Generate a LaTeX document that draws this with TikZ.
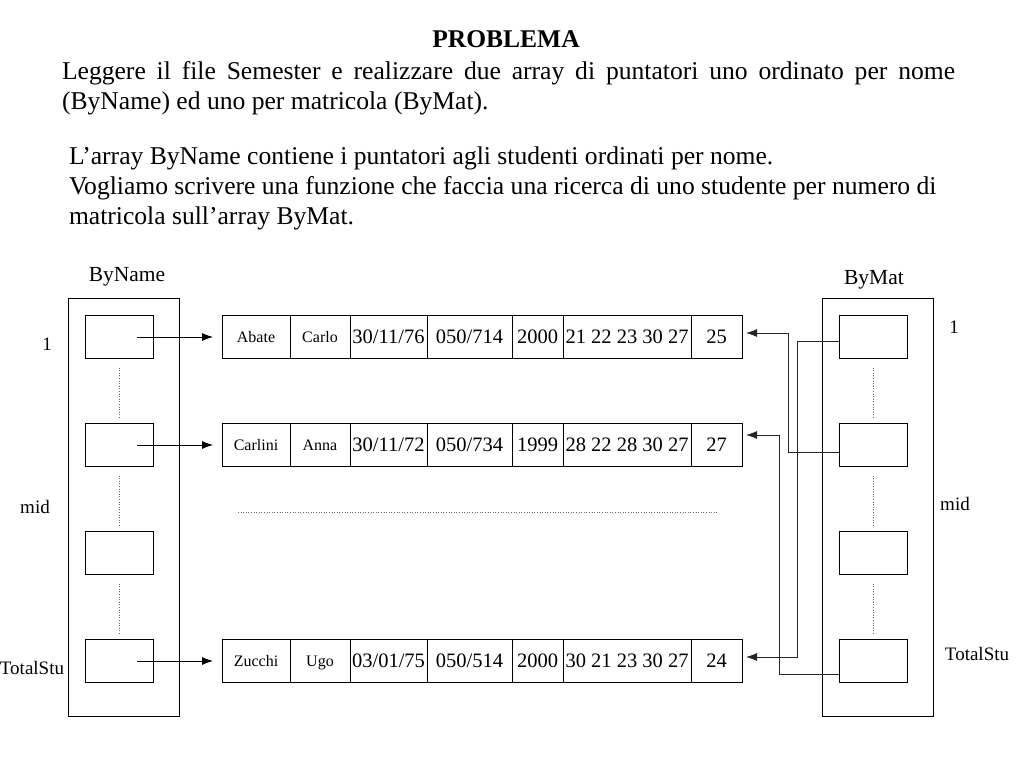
\documentclass[tikz,border=0pt]{standalone}
\usepackage{fontspec}
\setmainfont{Liberation Serif}
\usetikzlibrary{positioning,arrows.meta}

\begin{document}
\begin{tikzpicture}[x=1pt,y=-1pt,
  every node/.style={inner sep=0pt,outer sep=0pt},
  txt/.style={anchor=base west,font=\fontsize{25.6}{30}\selectfont},
  lbl/.style={font=\fontsize{19}{22}\selectfont},
  head/.style={font=\fontsize{21.5}{24}\selectfont},
  frame/.style={draw,line width=0.9pt,minimum width=111pt,minimum height=418pt},
  slot/.style={draw,line width=0.9pt,minimum width=68pt,minimum height=43pt},
  cell/.style={draw,line width=0.9pt,minimum height=43pt,text height=16pt,text depth=2.4pt,font=\fontsize{20.5}{24}\selectfont},
  ncell/.style={cell,text height=13pt,font=\fontsize{16}{20}\selectfont},
  ptr/.style={-{Latex[length=11pt,width=8pt]},line width=0.8pt},
  link/.style={draw=black!85},
  dots/.style={dotted,draw=black!60,line width=0.6pt}]
\useasboundingbox (0,0) rectangle (1024,768);

% testo
\node[font=\bfseries\fontsize{25.5}{30}\selectfont] (title) at (506,39) {PROBLEMA};
\node[txt] (l1) at (62,79) {\makebox[893pt][s]{Leggere il file Semester e realizzare due array di puntatori uno ordinato per nome}};
\node[txt] (l2) at (62,109) {(ByName) ed uno per matricola (ByMat).};
\node[txt] (p1) at (69,164) {L’array ByName contiene i puntatori agli studenti ordinati per nome.};
\node[txt] (p2) at (69,194) {Vogliamo scrivere una funzione che faccia una ricerca di uno studente per numero di};
\node[txt] (p3) at (69,224) {matricola sull’array ByMat.};

% array ByName
\node[head] (tname) at (127,277) {ByName};
\node[frame] (byname) at (123.5,507) {};
\node[slot] (nb1) at (119,337) {};
\node[slot] (nb2) at (119,445) {};
\node[slot] (nb3) at (119,553) {};
\node[slot] (nb4) at (119,661) {};
\node[lbl] (ni1) at (47,344) {1};
\node[lbl] (nimid) at (35,507) {mid};
\node[lbl] (nitot) at (32,668) {TotalStu};

% array ByMat
\node[head] (tmat) at (874,280) {ByMat};
\node[frame] (bymat) at (877.5,507) {};
\node[slot] (mb1) at (873,337) {};
\node[slot] (mb2) at (873,445) {};
\node[slot] (mb3) at (873,553) {};
\node[slot] (mb4) at (873,661) {};
\node[lbl] (mi1) at (954,327) {1};
\node[lbl] (mimid) at (955,504) {mid};
\node[lbl] (mitot) at (977,654) {TotalStu};

% studenti
\node[ncell,minimum width=68pt,anchor=west] (r1a) at (222,337) {Abate};
\node[ncell,minimum width=60pt,right=0pt of r1a] (r1b) {Carlo};
\node[cell,minimum width=77pt,right=0pt of r1b] (r1c) {30/11/76};
\node[cell,minimum width=85pt,right=0pt of r1c] (r1d) {050/714};
\node[cell,minimum width=51pt,right=0pt of r1d] (r1e) {2000};
\node[cell,minimum width=128pt,right=0pt of r1e] (r1f) {21 22 23 30 27};
\node[cell,minimum width=51pt,right=0pt of r1f] (r1g) {25};

\node[ncell,minimum width=68pt,anchor=west] (r2a) at (222,445) {Carlini};
\node[ncell,minimum width=60pt,right=0pt of r2a] (r2b) {Anna};
\node[cell,minimum width=77pt,right=0pt of r2b] (r2c) {30/11/72};
\node[cell,minimum width=85pt,right=0pt of r2c] (r2d) {050/734};
\node[cell,minimum width=51pt,right=0pt of r2d] (r2e) {1999};
\node[cell,minimum width=128pt,right=0pt of r2e] (r2f) {28 22 28 30 27};
\node[cell,minimum width=51pt,right=0pt of r2f] (r2g) {27};

\node[ncell,minimum width=68pt,anchor=west] (r3a) at (222,661) {Zucchi};
\node[ncell,minimum width=60pt,right=0pt of r3a] (r3b) {Ugo};
\node[cell,minimum width=77pt,right=0pt of r3b] (r3c) {03/01/75};
\node[cell,minimum width=85pt,right=0pt of r3c] (r3d) {050/514};
\node[cell,minimum width=51pt,right=0pt of r3d] (r3e) {2000};
\node[cell,minimum width=128pt,right=0pt of r3e] (r3f) {30 21 23 30 27};
\node[cell,minimum width=51pt,right=0pt of r3f] (r3g) {24};

% puntini
\draw[dots] ([yshift=-9pt]nb1.south) -- ([yshift=5pt]nb2.north);
\draw[dots] ([yshift=-9pt]nb2.south) -- ([yshift=5pt]nb3.north);
\draw[dots] ([yshift=-9pt]nb3.south) -- ([yshift=5pt]nb4.north);
\draw[dots] ([yshift=-9pt]mb1.south) -- ([yshift=5pt]mb2.north);
\draw[dots] ([yshift=-9pt]mb2.south) -- ([yshift=5pt]mb3.north);
\draw[dots] ([yshift=-9pt]mb3.south) -- ([yshift=5pt]mb4.north);
\draw[dots] (238,512) -- (717,512);

% puntatori ByName
\draw[ptr] ([xshift=18pt]nb1.center) -- ([xshift=-9pt]r1a.west);
\draw[ptr] ([xshift=18pt]nb2.center) -- ([xshift=-9pt]r2a.west);
\draw[ptr] ([xshift=18pt]nb4.center) -- ([xshift=-9pt]r3a.west);

% puntatori ByMat
\draw[ptr,link] ([yshift=-4pt]mb1.west) -| ([xshift=55pt,yshift=4pt]r3g.east) -- ([xshift=4pt,yshift=4pt]r3g.east);
\draw[ptr,link] ([yshift=-7pt]mb2.west) -| ([xshift=46pt,yshift=4pt]r1g.east) -- ([xshift=4pt,yshift=4pt]r1g.east);
\draw[ptr,link] ([yshift=-13pt]mb4.west) -| ([xshift=37pt,yshift=10pt]r2g.east) -- ([xshift=4pt,yshift=10pt]r2g.east);
\end{tikzpicture}
\end{document}
